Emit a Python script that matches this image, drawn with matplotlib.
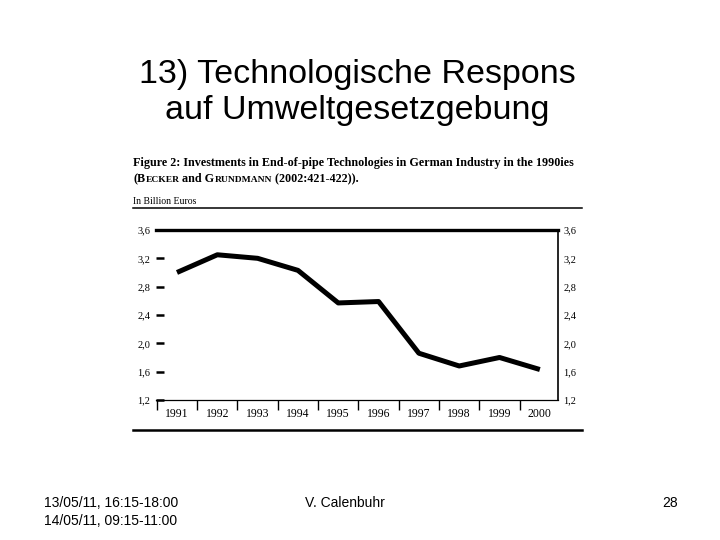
import matplotlib.pyplot as plt
from matplotlib.ticker import FixedLocator

years = [1991, 1992, 1993, 1994, 1995, 1996, 1997, 1998, 1999, 2000]
invest = [3.00, 3.25, 3.20, 3.03, 2.57, 2.59, 1.86, 1.68, 1.80, 1.63]
yticks = [1.2, 1.6, 2.0, 2.4, 2.8, 3.2, 3.6]
ylabels = ['1,2', '1,6', '2,0', '2,4', '2,8', '3,2', '3,6']

serif = 'Liberation Serif'
sans = 'Liberation Sans'

fig = plt.figure(figsize=(7.2, 5.4), dpi=100)

fig.text(0.496, 0.829, '13) Technologische Respons\nauf Umweltgesetzgebung',
         ha='center', va='center', fontsize=24.5, family=sans, linespacing=1.22)

# caption
fig.text(0.185, 0.699, 'Figure 2: Investments in End-of-pipe Technologies in German Industry in the 1990ies',
         fontsize=8.75, family=serif, fontweight='bold', va='center')

# second caption line with small caps, built piece by piece
pieces = [('(B', 8.75), ('ECKER', 6.8), (' and G', 8.75), ('RUNDMANN', 6.8), (' (2002:421-422)).', 8.75)]
renderer = fig.canvas.get_renderer()
x = 0.185
for s, fs in pieces:
    t = fig.text(x, 0.663, s, fontsize=fs, family=serif, fontweight='bold', va='baseline')
    bb = t.get_window_extent(renderer=renderer)
    x += bb.width / fig.bbox.width

fig.text(0.185, 0.626, 'In Billion Euros', fontsize=7, family=serif, va='center')
fig.add_artist(plt.Line2D([0.185, 0.808], [0.615, 0.615], color='black', lw=1.1))
fig.add_artist(plt.Line2D([0.185, 0.808], [0.204, 0.204], color='black', lw=1.8))

ax = fig.add_axes([0.2167, 0.2593, 0.5583, 0.3148])
ax.plot(years, invest, color='black', lw=3.6, solid_capstyle='butt', solid_joinstyle='round')
ax.set_xlim(1990.48, 2000.45)
ax.set_ylim(1.2, 3.6)

ax.spines['left'].set_visible(False)
ax.spines['top'].set_linewidth(2.4)
ax.spines['right'].set_linewidth(1.2)
ax.spines['bottom'].set_linewidth(0.9)

ax.set_yticks(yticks)
ax.set_yticklabels(ylabels, family=serif, fontsize=7.5)
ax.tick_params(axis='y', which='major', direction='in', length=6, width=1.8,
               left=True, right=False, labelright=True, pad=4)
ax.set_xticks(years)
ax.set_xticklabels([str(y) for y in years], family=serif, fontsize=8.5)
ax.xaxis.set_minor_locator(FixedLocator([y + 0.5 for y in years[:-1]] + [1990.5]))
ax.tick_params(axis='x', which='major', length=0, pad=6)
ax.tick_params(axis='x', which='minor', direction='out', length=7, width=1)

fig.text(0.061, 0.052, '13/05/11, 16:15-18:00\n14/05/11, 09:15-11:00',
         fontsize=10, family=sans, va='center', linespacing=1.3)
fig.text(0.424, 0.069, 'V. Calenbuhr', fontsize=10, family=sans, va='center')
fig.text(0.941, 0.069, '28', fontsize=10, family=sans, va='center', ha='right')

fig.savefig('out.png', dpi=100)
